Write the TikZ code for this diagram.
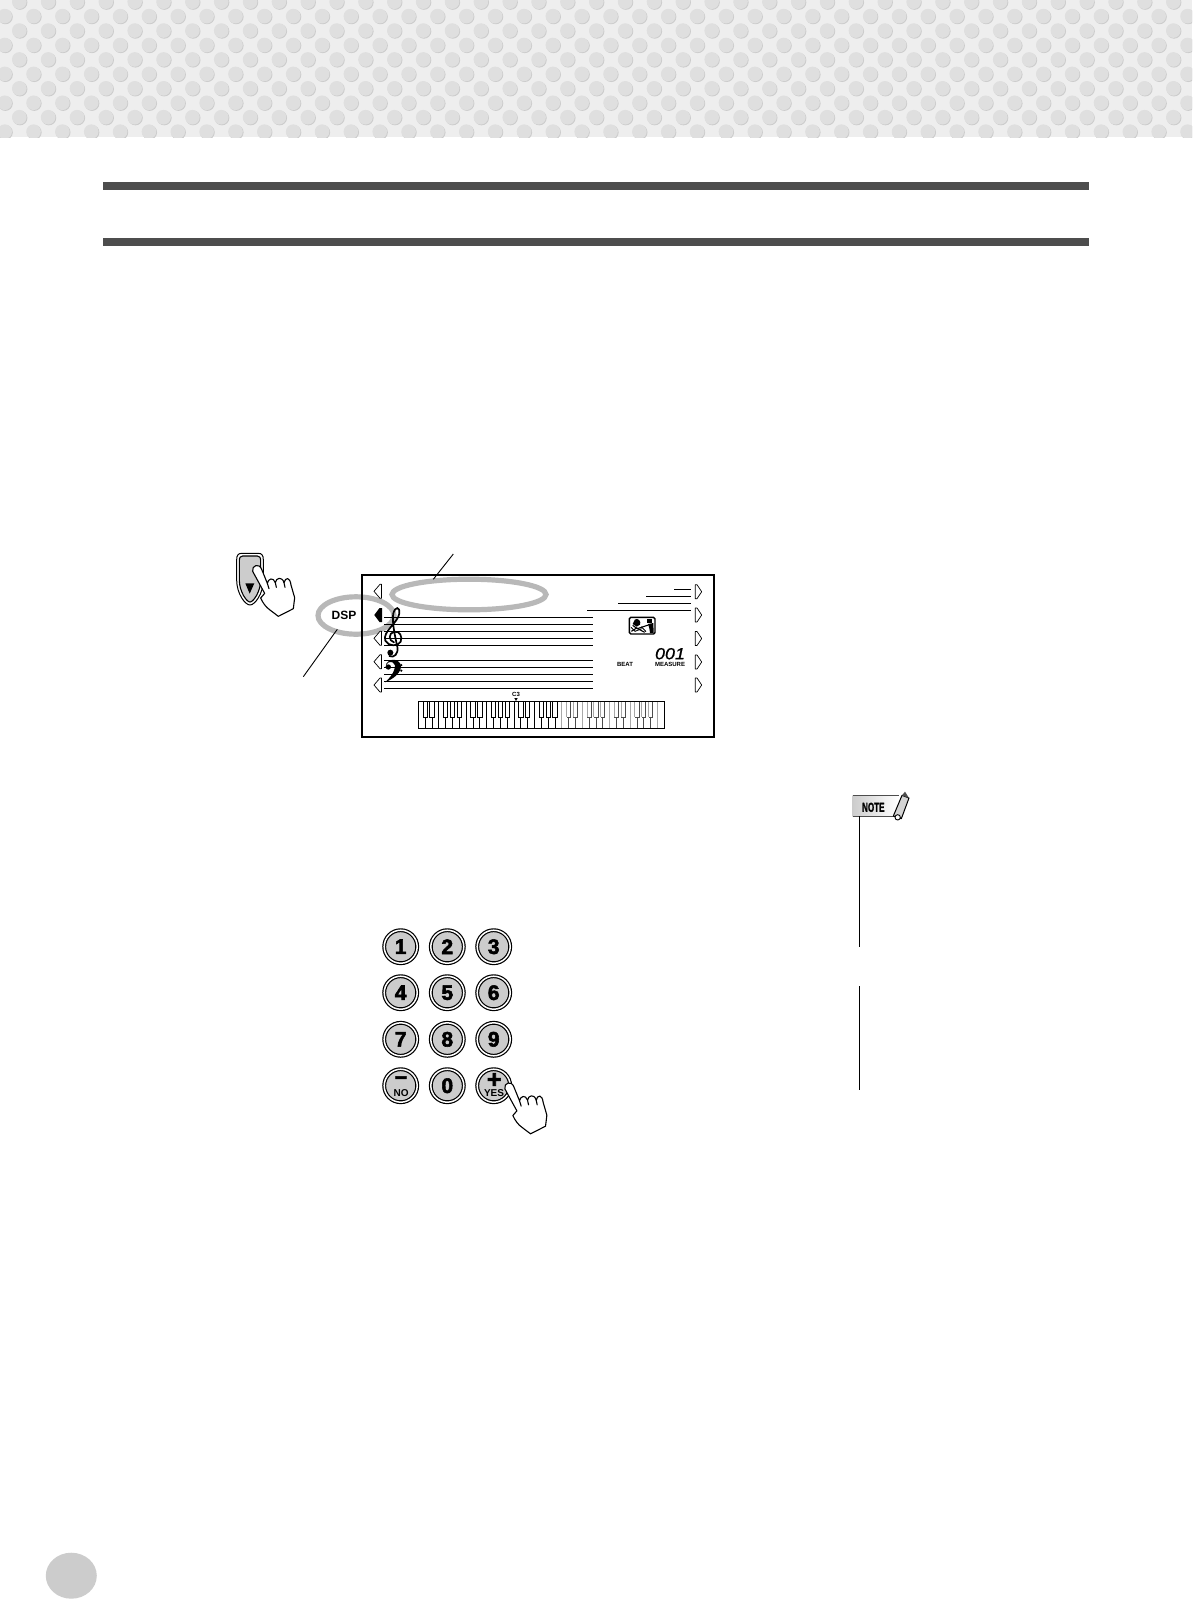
\documentclass[tikz,border=0pt]{standalone}
\usepackage{fontspec}
\setmainfont{Liberation Sans}
\newfontfamily\keyfont[FakeBold=2.6]{Liberation Sans Bold}
\newfontfamily\lcdfont[FakeBold=0.9]{Liberation Sans Italic}
\usetikzlibrary{shapes.geometric}
\definecolor{bandbg}{HTML}{EEEEEE}
\definecolor{banddot}{HTML}{DFDFDF}
\definecolor{bandshade}{HTML}{CCCCCC}
\definecolor{rulegray}{HTML}{4D4D4D}
\definecolor{ringgray}{HTML}{B8B8B8}
\definecolor{keygray}{HTML}{CCCCCC}
\definecolor{midgray}{HTML}{A8A8A8}
\newcommand\fsz[1]{\fontsize{#1}{#1}\selectfont}
\newcommand\handshape{%
  \draw[handline,fill=white]
    (128,124) .. controls (124,106) and (148,98) .. (155,118)
    -- (172,160)
    .. controls (174,146) and (190,140) .. (196,158)
    .. controls (198,143) and (216,138) .. (222,158)
    .. controls (226,141) and (240,140) .. (243,165)
    -- (254,203) -- (250,236) -- (205,259) -- (180,240)
    .. controls (168,232) and (158,218) .. (152,204)
    -- (164,190) -- cycle;
  \draw[handline] (172,160) -- (177,176);
  \draw[handline] (196,158) -- (199,172);
  \draw[handline] (222,158) -- (225,172);
}
\tikzset{
  handline/.style={line width=1.1pt,line join=round,line cap=round},
  ringmark/.style={ellipse,draw=ringgray,line width=5.2pt,inner sep=0pt,fill=none},
  leader/.style={line width=0.9pt},
  staffline/.style={line width=1pt},
  lcdlabel/.style={inner sep=0pt,font=\bfseries\fsz{6}},
  keybtn/.style={circle,draw=black,line width=1.2pt,double=white,double distance=1.5pt,
    fill=keygray,minimum size=33pt,inner sep=0pt,font=\keyfont\fsz{21}},
  keytext/.style={inner sep=0pt},
  noteline/.style={line width=1pt},
  arrowmark/.style={line width=0.7pt,line join=round,fill=white},
}
\begin{document}
\begin{tikzpicture}[x=1pt,y=-1pt]
\useasboundingbox (0,0) rectangle (1192,1599);
\fill[white] (0,0) rectangle (1192,1599);
% dotted band
\begin{scope}
\clip (0,0) rectangle (1192,137);
\fill[bandbg] (0,0) rectangle (1192,137);
\foreach \k in {0,...,9}{
  \pgfmathsetmacro{\yy}{1.7+14.44*\k}
  \pgfmathsetmacro{\xo}{ifthenelse(mod(\k,2)==0,19.3,4.7)}
  \foreach \j in {-1,...,41}{
    \pgfmathsetmacro{\xx}{\xo+28.85*\j}
    \fill[bandshade] (\xx+0.7,\yy+0.7) circle[radius=7.4];
    \fill[banddot] (\xx,\yy) circle[radius=7.3];
  }
}
\end{scope}
% header rules
\fill[rulegray] (103,182) rectangle (1089,190);
\fill[rulegray] (103,238) rectangle (1089,246);
% gray rings
\node[ringmark,minimum width=154pt,minimum height=30.6pt] (voicering) at (469,594.5) {};
\node[ringmark,minimum width=76pt,minimum height=37.4pt] (dspring) at (356,615.5) {};
% leaders
\coordinate (leadAa) at (453.3,554);
\coordinate (leadAb) at (433.3,579.3);
\coordinate (leadBa) at (337.3,629.3);
\coordinate (leadBb) at (303.3,676.7);
\draw[leader] (leadAa) -- (leadAb);
\draw[leader] (leadBa) -- (leadBb);
% display frame
\draw[line width=1.9pt] (362,575) rectangle (714.3,736.7);
\node[inner sep=0pt,font=\bfseries\fsz{12}] (dsptext) at (344,615) {DSP};
% staff lines
\foreach \y in {617.3,624.3,631.3,638.3,645.3,660.3,667.3,674.3,681.3,688.3}
  \draw[staffline] (384,\y) -- (592.7,\y);
\draw[staffline] (674,589.3) -- (690.7,589.3);
\draw[staffline] (646,596) -- (690.7,596);
\draw[staffline] (618,603) -- (690.7,603);
\draw[staffline] (587,610.3) -- (690.7,610.3);
% side arrows
\foreach \y in {591.3,638.3,661.7,685}
  \draw[arrowmark] (374,\y) -- (380,\y-7) -- (381.5,\y-7) -- (381.5,\y+7) -- (380,\y+7) -- cycle;
\fill[black] (374.3,615) -- (379.5,608) -- (382,608) -- (382,622) -- (379.5,622) -- cycle;
\foreach \y in {591.7,615,638.5,662,685}
  \draw[arrowmark] (695.3,\y-7) -- (697,\y-7) -- (701.7,\y) -- (697,\y+7) -- (695.3,\y+7) -- cycle;
% clefs
\begin{scope}[shift={(210,530)},scale=1/3]
  \draw[line width=1.7pt,line cap=round]
    (552,337) .. controls (535,332) and (535,310) .. (552,305)
    .. controls (570,302) and (578,320) .. (572,335)
    .. controls (565,350) and (535,350) .. (526,332)
    .. controls (516,305) and (565,278) .. (568,250)
    .. controls (570,230) and (556,228) .. (550,250)
    .. controls (545,272) and (555,320) .. (562,350)
    .. controls (566,372) and (552,385) .. (538,378);
  \fill (541,368) circle[radius=9];
  \fill (535,411) circle[radius=8];
  \fill (527,412) .. controls (525,395) and (545,386) .. (556,390)
    .. controls (584,398) and (580,434) .. (525,457)
    .. controls (554,432) and (562,402) .. (548,397)
    .. controls (535,393) and (530,400) .. (527,412) -- cycle;
  \fill (574,405) circle[radius=3.5];
  \fill (574,422) circle[radius=3.5];
\end{scope}
% keyboard
\foreach \i in {1,...,35}{
  \pgfmathsetmacro{\xx}{418.3+6.833*\i}
  \pgfmathtruncatemacro{\m}{mod(\i,7)}
  \ifnum\m=0 \def\hasb{0}\else\ifnum\m=3 \def\hasb{0}\else\def\hasb{1}\fi\fi
  \ifnum\i<21
    \ifnum\hasb=1
      \draw[line width=.8pt] (\xx,717.3) -- (\xx,728.3);
      \draw[line width=.8pt,fill=white] (\xx-2.1,701.7) rectangle (\xx+2.1,717.3);
    \else
      \draw[line width=.8pt] (\xx,701.7) -- (\xx,728.3);
    \fi
  \else
    \ifnum\hasb=1
      \draw[line width=.8pt,black!70] (\xx,717.3) -- (\xx,728.3);
      \draw[line width=.9pt,midgray] (\xx-2.1,701.7) -- (\xx-2.1,717.3);
      \draw[line width=.8pt,black!70] (\xx+2.1,701.7) -- (\xx+2.1,717.3) -- (\xx-2.1,717.3);
    \else
      \draw[line width=1.1pt,midgray] (\xx,701.7) -- (\xx,728.3);
    \fi
  \fi
}
\draw[line width=1pt] (418.3,701.7) rectangle (664.3,728.3);
\fill (514.3,698) -- (517.7,698) -- (516,701) -- cycle;
\node[inner sep=0pt,font=\bfseries\fsz{6}] (cthree) at (516,694.7) {C3};
% icon
\begin{scope}[shift={(520,560)},scale=1/3]
  \draw[line width=1.4pt,fill=white,rounded corners=1.5pt] (328,172) rectangle (405,222);
  \fill (345,178) .. controls (356,174) and (364,184) .. (360,194)
       -- (350,200) -- (338,192) -- cycle;
  \fill (382,176) rectangle (396,190);
  \fill (384,192) -- (400,189) -- (401,219) -- (390,219) -- (388,205) -- cycle;
  \draw[line width=1.1pt] (338,196) -- (352,206) -- (385,195);
  \draw[line width=1.1pt] (334,214) -- (350,204) -- (374,217);
  \draw[line width=.9pt] (333,202) -- (345,214) -- (365,206);
  \draw[line width=.9pt] (364,200) -- (378,215);
\end{scope}
\node[lcdlabel] (beat) at (625,664.3) {BEAT};
\node[lcdlabel] (measure) at (670,664.3) {MEASURE};
\node[inner sep=0pt,xscale=1.12,font=\lcdfont\fsz{16}] (counter) at (670,653.7) {001};
% button with hand
\begin{scope}[shift={(210,530)},scale=1/3]
  \draw[line width=1pt,fill=white,line join=round]
    (80,90) .. controls (80,75) and (85,70) .. (95,70) -- (145,70)
    .. controls (155,70) and (160,75) .. (160,90) -- (160,150)
    .. controls (160,190) and (135,225) .. (120,225)
    .. controls (105,225) and (80,190) .. (80,150) -- cycle;
  \draw[line width=1.1pt,fill=keygray,line join=round]
    (88,92) .. controls (88,82) and (92,78) .. (98,78) -- (142,78)
    .. controls (148,78) and (152,82) .. (152,92) -- (152,150)
    .. controls (152,185) and (130,216) .. (120,216)
    .. controls (110,216) and (88,185) .. (88,150) -- cycle;
  \fill (106,160) -- (133,160) -- (119,191) -- cycle;
  \handshape
\end{scope}
% number keys
\node[keybtn] (kone) at (400.7,946.7) {1};
\node[keybtn] (ktwo) at (447.3,946.7) {2};
\node[keybtn] (kthree) at (493.7,946.7) {3};
\node[keybtn] (kfour) at (400.7,992.7) {4};
\node[keybtn] (kfive) at (447.3,992.7) {5};
\node[keybtn] (ksix) at (493.7,992.7) {6};
\node[keybtn] (kseven) at (400.7,1039.3) {7};
\node[keybtn] (keight) at (447.3,1039.3) {8};
\node[keybtn] (knine) at (493.7,1039.3) {9};
\node[keybtn] (kminus) at (400.7,1085.7) {};
\node[keybtn] (kzero) at (447.3,1085.7) {0};
\node[keybtn] (kplus) at (493.7,1085.7) {};
\node[keytext,font=\keyfont\fsz{21}] (minussign) at (401,1080.5) {−};
\node[keytext,font=\bfseries\fsz{10}] (notext) at (401.2,1092.7) {NO};
\node[keytext,font=\keyfont\fsz{25}] (plussign) at (494.3,1080.5) {+};
\node[keytext,font=\bfseries\fsz{10}] (yestext) at (494,1092.7) {YES};
\begin{scope}[shift={(462.2,1047.5)},scale=1/3]
  \handshape
\end{scope}
% note tab
\begin{scope}[shift={(840,780)},scale=1/3]
  \shade[left color=keygray,right color=white] (38,45) rectangle (172,110);
  \draw[line width=1.3pt,rulegray] (38,46) -- (176,46);
  \draw[line width=1.3pt,rulegray] (38,109) -- (165,109);
  \draw[line width=1pt,fill=keygray!85,line join=round] (160,108) -- (186,46) -- (207,54) -- (184,116) -- cycle;
  \fill[rulegray] (186,46) -- (195,35) -- (207,54) -- cycle;
  \draw[line width=.9pt,fill=white] (173,112) circle[radius=8];
\end{scope}
\node[inner sep=0pt,xscale=.62,font=\keyfont\fsz{13}] (notelabel) at (873.3,807.3) {NOTE};
\coordinate (noteAa) at (859.5,816);
\coordinate (noteAb) at (859.5,947);
\coordinate (noteBa) at (859.5,986);
\coordinate (noteBb) at (859.5,1090);
\draw[noteline] (noteAa) -- (noteAb);
\draw[noteline] (noteBa) -- (noteBb);
% page dot
\fill[keygray] (71.3,1575.7) ellipse[x radius=25.5,y radius=23];
\end{tikzpicture}
\end{document}
